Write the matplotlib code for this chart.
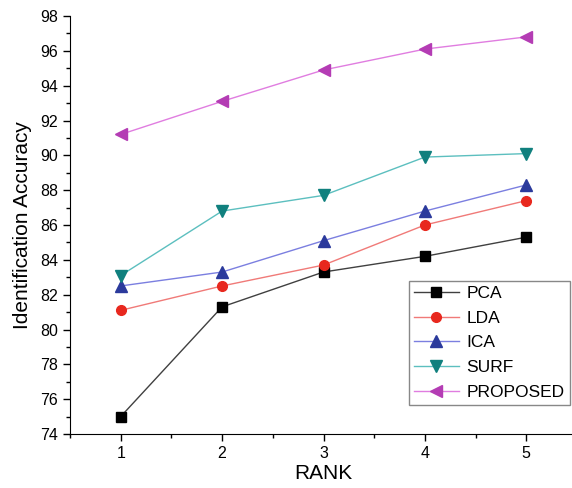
import matplotlib.pyplot as plt
from matplotlib.ticker import MultipleLocator

plt.rcParams['font.family'] = ['Liberation Sans', 'DejaVu Sans']

rank = [1, 2, 3, 4, 5]
pca = [75.0, 81.3, 83.3, 84.2, 85.3]
lda = [81.1, 82.5, 83.7, 86.0, 87.4]
ica = [82.5, 83.3, 85.1, 86.8, 88.3]
surf = [83.1, 86.8, 87.7, 89.9, 90.1]
proposed = [91.2, 93.1, 94.9, 96.1, 96.8]

series = [
    ("PCA", pca, "s", "#000000", "#404040"),
    ("LDA", lda, "o", "#e8281e", "#f07a78"),
    ("ICA", ica, "^", "#2b3a9c", "#7b7fe0"),
    ("SURF", surf, "v", "#10807e", "#5cbfbf"),
    ("PROPOSED", proposed, "<", "#b43cb4", "#e07de0"),
]

fig = plt.figure(figsize=(5.72, 4.88), dpi=100)
ax = fig.add_axes([70 / 572, 54 / 488, 507 / 572, 418 / 488])

for name, vals, mk, mc, lc in series:
    ax.plot(rank, vals, color=lc, linewidth=1, marker=mk,
            markerfacecolor=mc, markeredgecolor=mc,
            markersize=7 if mk in ("s", "o") else 8.5, label=name)

ax.set_xlim(0.5, 5.5)
ax.set_ylim(74, 98)
ax.xaxis.set_major_locator(MultipleLocator(1))
ax.xaxis.set_minor_locator(MultipleLocator(0.5))
ax.yaxis.set_major_locator(MultipleLocator(2))
ax.yaxis.set_minor_locator(MultipleLocator(1))
ax.tick_params(which='major', direction='out', length=5, width=1, labelsize=11.5)
ax.tick_params(which='minor', direction='out', length=3, width=1)
ax.spines['top'].set_visible(False)
ax.spines['right'].set_visible(False)

ax.set_xlabel("RANK", fontsize=15, labelpad=2)
ax.set_ylabel("Identification Accuracy", fontsize=15, labelpad=6)

leg = ax.legend(loc='lower right', bbox_to_anchor=(570 / 572, 83 / 488),
                bbox_transform=fig.transFigure, fontsize=12.5, fancybox=False,
                edgecolor='#888888', framealpha=1, handlelength=2.6,
                handletextpad=0.45, labelspacing=0.55, borderpad=0.3,
                borderaxespad=0)
leg.get_frame().set_linewidth(1)

fig.savefig("out.png", dpi=100)
